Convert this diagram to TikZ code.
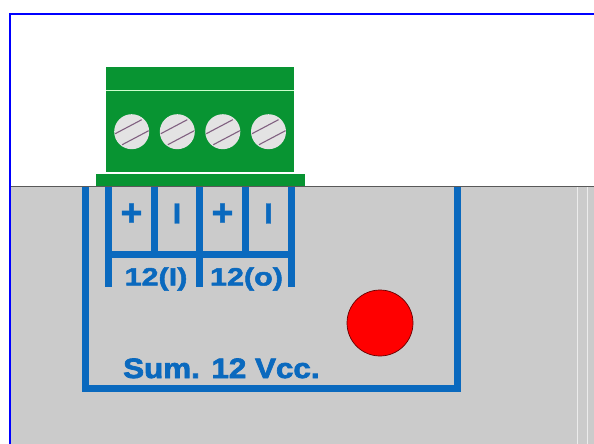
\documentclass[tikz,border=0pt]{standalone}
\usepackage{fontspec}
\setmainfont{Liberation Sans}
\newfontfamily\widelabel[FakeStretch=1.22,FakeBold=2]{Liberation Sans Bold}
\newfontfamily\widesum[FakeStretch=1.12,FakeBold=2.6]{Liberation Sans Bold}
\newfontfamily\heavysign[FakeBold=1.5]{Liberation Sans Bold}
\usepackage{tikz}
\usetikzlibrary{positioning,calc}
\definecolor{panelgray}{RGB}{203,203,203}
\definecolor{termgreen}{RGB}{8,148,50}
\definecolor{wireblue}{RGB}{10,105,190}
\begin{document}
\begin{tikzpicture}[
    x=1pt, y=-1pt,
    bus/.style={draw=wireblue, line width=7pt},
    plus sign/.style={text=wireblue, font=\heavysign\fontsize{37}{37}\selectfont, inner sep=0pt},
    minus sign/.style={text=wireblue, font=\heavysign\fontsize{29}{29}\selectfont, inner sep=0pt},
    pin label/.style={text=wireblue, font=\widelabel\fontsize{25}{25}\selectfont, inner sep=0pt},
    screw/.style={circle, fill=gray!22, draw=none, minimum size=35pt, inner sep=0pt},
    slot/.style={draw=gray!75!violet, line width=1.1pt},
    body/.style={fill=termgreen, draw=none}
]
    \useasboundingbox (0,0) rectangle (594,444);
    \fill[white] (0,0) rectangle (594,444);

    % panel
    \fill[panelgray] (10,186) rectangle (594,444);
    \draw[black!65, line width=1pt] (10,186) -- (594,186);
    \draw[gray!15, line width=1pt] (577,187) -- (577,444);
    \draw[gray!15, line width=1pt] (587,187) -- (587,444);

    % frame
    \draw[blue, line width=2pt] (594,14) -- (10,14) -- (10,444);

    % terminal block
    \fill[body] (106,67) rectangle (294,172);
    \draw[white!80!green, line width=1pt] (106,90) -- (294,90);
    \fill[body] (96,174) rectangle (305,186);
    \foreach \sx/\name in {131.7/a, 177.3/b, 222.8/c, 268.5/d} {
        \node[screw] (screw\name) at (\sx,131.7) {};
        \draw[slot] ($(screw\name.center)+(-16.5,2)$) -- ($(screw\name.center)+(10,-12)$);
        \draw[slot] ($(screw\name.center)+(-9.5,13)$) -- ($(screw\name.center)+(17,-1)$);
    }

    % outer loop
    \draw[bus, line join=miter] (85.5,187) -- (85.5,388) -- (457.5,388) -- (457.5,187);

    % terminal wires
    \draw[bus] (108.5,187) -- (108.5,287);
    \draw[bus] (154,187) -- (154,254);
    \draw[bus] (199.5,187) -- (199.5,287);
    \draw[bus] (245,187) -- (245,254);
    \draw[bus] (291,187) -- (291,287);
    \draw[bus] (105,254) -- (294.5,254);

    % labels
    \node[plus sign] (plusi) at (131.5,214.5) {+};
    \node[minus sign] (minusi) at (177,213.5) {I};
    \node[plus sign] (pluso) at (222.5,214.5) {+};
    \node[minus sign] (minuso) at (268.5,213.5) {I};
    \node[pin label] (inlabel) at (156,279) {12(I)};
    \node[pin label] (outlabel) at (246.5,279) {12(o)};
    \node[text=wireblue, font=\widesum\fontsize{28}{28}\selectfont, inner sep=0pt, anchor=base west] (sumlabel) at (123,378) {Sum. 12 Vcc.};

    % lamp
    \node[circle, fill=red, draw=black!60!red, line width=0.7pt, minimum size=66pt, inner sep=0pt] (lamp) at (380,323) {};
\end{tikzpicture}
\end{document}
